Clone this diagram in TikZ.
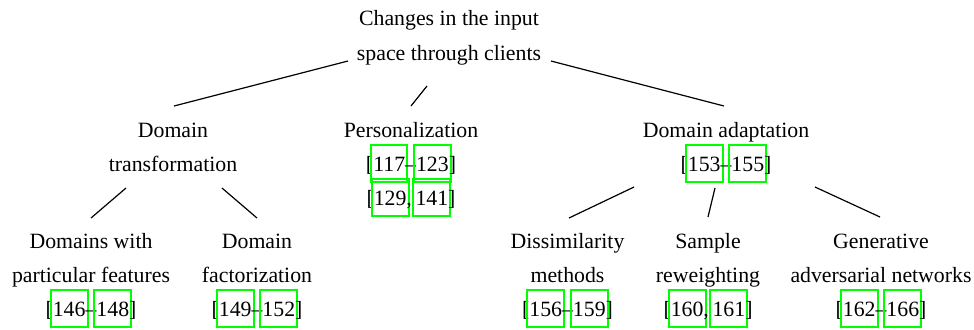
\documentclass[tikz,border=0pt]{standalone}
\usepackage{fontspec}
\setmainfont{Liberation Serif}
\usetikzlibrary{calc}
\definecolor{linkgreen}{rgb}{0,1,0}
\newsavebox\lkbox
\newlength\lkpad \setlength\lkpad{1.1pt}
\newlength\lkr \setlength\lkr{1pt}
\newlength\lkT \setlength\lkT{13pt}
\newlength\lkB \setlength\lkB{5.2pt}
\newcommand\lk[1]{\leavevmode\sbox\lkbox{#1}%
  \raisebox{0pt}[0pt][0pt]{\rlap{\color{linkgreen}%
    \kern\dimexpr-\lkpad-0.5\lkr\relax
    \rlap{\vrule width\lkr height\dimexpr\lkT+0.5\lkr\relax depth\dimexpr\lkB+0.5\lkr\relax}%
    \rlap{\vrule width\dimexpr\wd\lkbox+2\lkpad+\lkr\relax height\dimexpr\lkT+0.5\lkr\relax depth-\dimexpr\lkT-0.5\lkr\relax}%
    \rlap{\vrule width\dimexpr\wd\lkbox+2\lkpad+\lkr\relax height-\dimexpr\lkB-0.5\lkr\relax depth\dimexpr\lkB+0.5\lkr\relax}%
    \kern\dimexpr\wd\lkbox+2\lkpad\relax
    \vrule width\lkr height\dimexpr\lkT+0.5\lkr\relax depth\dimexpr\lkB+0.5\lkr\relax}}%
  \usebox\lkbox}
\newcommand\crange[2]{[\lk{#1}--\lk{#2}]}
\newcommand\cpair[2]{[\lk{#1},\,\lk{#2}]}
\tikzset{
  lbl/.style={align=center, inner sep=0pt, anchor=base, font=\fontsize{10.9}{17}\selectfont},
  edge/.style={draw=black, line width=0.6pt}
}
\begin{document}
\begin{tikzpicture}[x=0.5pt,y=-0.5pt]
\path[use as bounding box, fill=white] (0,0) rectangle (974,329);
% nodes (anchored at the baseline of their last line)
\node[lbl, font=\fontsize{10.9}{17.5}\selectfont] (root) at (449,60.5) {Changes in the input\\space through clients};
\node[lbl] (dt) at (173,171.3) {Domain\\transformation};
\node[lbl] (pers) at (411,205.3) {Personalization\\\crange{117}{123}\\\cpair{129}{141}};
\node[lbl] (da) at (726,171.3) {Domain adaptation\\\crange{153}{155}};
\node[lbl] (dwp) at (91,316.3) {Domains with\\particular features\\\crange{146}{148}};
\node[lbl] (df) at (257,316.3) {Domain\\factorization\\\crange{149}{152}};
\node[lbl] (dm) at (567.5,316.3) {Dissimilarity\\methods\\\crange{156}{159}};
\node[lbl] (sr) at (708,316.3) {Sample\\reweighting\\\cpair{160}{161}};
\node[lbl] (gan) at (881,316.3) {Generative\\adversarial networks\\\crange{162}{166}};
% connectors
\draw[edge] ($(root.base)+(-101,0.5)$) -- ($(dt.base)+(1,-65.3)$);
\draw[edge] ($(root.base)+(-22,25.5)$) -- ($(pers.base)+(0,-99.3)$);
\draw[edge] ($(root.base)+(102,0.5)$) -- ($(da.base)+(-2,-65.3)$);
\draw[edge] ($(dt.base)+(-47,16.7)$) -- ($(dwp.base)+(0,-98.3)$);
\draw[edge] ($(dt.base)+(49,16.7)$) -- ($(df.base)+(0,-98.3)$);
\draw[edge] ($(da.base)+(-92,15.7)$) -- ($(dm.base)+(1.5,-98.3)$);
\draw[edge] ($(da.base)+(-11,16.7)$) -- ($(sr.base)+(0,-99.3)$);
\draw[edge] ($(da.base)+(89,15.7)$) -- ($(gan.base)+(-1,-99.3)$);
\end{tikzpicture}
\end{document}
